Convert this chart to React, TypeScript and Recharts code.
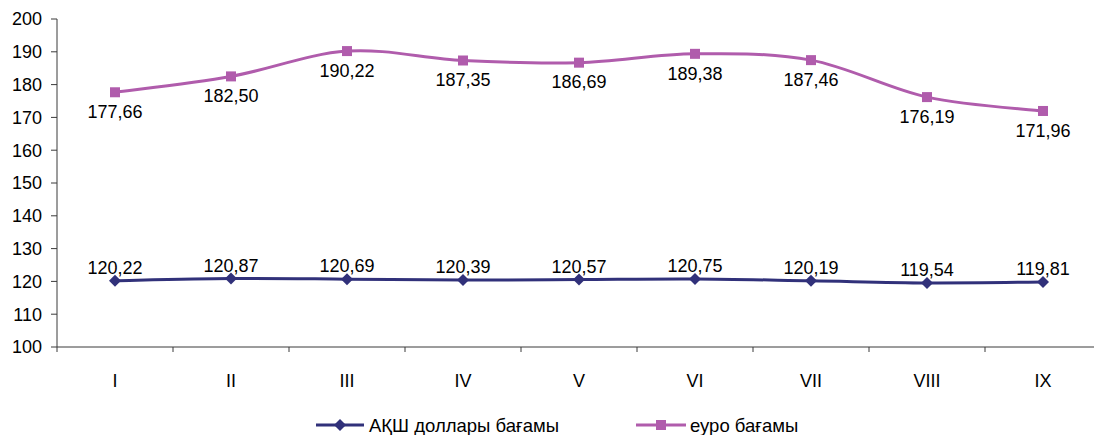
import React from 'react'
import { LineChart, Line, XAxis, YAxis, Legend, LabelList } from 'recharts'

const months = ['I', 'II', 'III', 'IV', 'V', 'VI', 'VII', 'VIII', 'IX']
const usdRate = [120.22, 120.87, 120.69, 120.39, 120.57, 120.75, 120.19, 119.54, 119.81]
const eurRate = [177.66, 182.5, 190.22, 187.35, 186.69, 189.38, 187.46, 176.19, 171.96]
const yTicks = [100, 110, 120, 130, 140, 150, 160, 170, 180, 190, 200]

const usdName = 'АҚШ доллары бағамы'
const eurName = 'еуро бағамы'

const USD_COLOR = '#31317a'
const EUR_COLOR = '#b05cac'
const AXIS_COLOR = '#3a3a3a'
const FONT = '"Liberation Sans", Arial, sans-serif'

const data = months.map((m, i) => ({ month: m, usd: usdRate[i], eur: eurRate[i] }))

// excel-like smoothing (catmull-rom through the points)
const smoothCurve = (ctx: any) => {
  let pts: number[][] = []
  return {
    areaStart() {},
    areaEnd() {},
    lineStart() {
      pts = []
    },
    point(x: number, y: number) {
      pts.push([+x, +y])
    },
    lineEnd() {
      if (!pts.length) return
      ctx.moveTo(pts[0][0], pts[0][1])
      for (let i = 0; i < pts.length - 1; i++) {
        const p0 = pts[i - 1] || pts[i]
        const p1 = pts[i]
        const p2 = pts[i + 1]
        const p3 = pts[i + 2] || p2
        ctx.bezierCurveTo(
          p1[0] + (p2[0] - p0[0]) / 6,
          p1[1] + (p2[1] - p0[1]) / 6,
          p2[0] - (p3[0] - p1[0]) / 6,
          p2[1] - (p3[1] - p1[1]) / 6,
          p2[0],
          p2[1]
        )
      }
    },
  }
}

const Diamond = ({ cx, cy }: any) => (
  <path d={`M${cx},${cy - 6}L${cx + 6},${cy}L${cx},${cy + 6}L${cx - 6},${cy}Z`} fill={USD_COLOR} />
)

const Square = ({ cx, cy }: any) => <rect x={cx - 5} y={cy - 5} width={10} height={10} fill={EUR_COLOR} />

const fmt = (v: any) => Number(v).toFixed(2).replace('.', ',')

const MonthTick = ({ x, y, payload }: any) => (
  <g>
    <line x1={x - 58} y1={y} x2={x - 58} y2={y + 5} stroke={AXIS_COLOR} />
    <text x={x} y={y + 34} dy="0.355em" textAnchor="middle" fontSize={18} fill="#000" fontFamily={FONT}>
      {payload.value}
    </text>
  </g>
)

const renderLegend = () => (
  <svg width={1094} height={48} style={{ display: 'block' }}>
    <line x1={316} y1={38} x2={364} y2={38} stroke={USD_COLOR} strokeWidth={3} />
    <Diamond cx={340} cy={38} />
    <text x={369} y={38} dy="0.355em" fontSize={18.5} fontFamily={FONT} fill="#000">
      {usdName}
    </text>
    <line x1={636} y1={38} x2={686} y2={38} stroke={EUR_COLOR} strokeWidth={3} />
    <Square cx={661} cy={38} />
    <text x={690} y={38} dy="0.355em" fontSize={18.5} fontFamily={FONT} fill="#000">
      {eurName}
    </text>
  </svg>
)

export default function App() {
  return (
    <div style={{ position: 'absolute', left: 0, top: 0, width: 1094, height: 435, overflow: 'hidden', background: '#fff' }}>
      <LineChart width={1101} height={435} data={data} margin={{ top: 19, right: 0, left: 0, bottom: 0 }}>
        <YAxis
          width={57}
          domain={[100, 200]}
          ticks={yTicks}
          interval={0}
          tickSize={6}
          tickMargin={9}
          stroke={AXIS_COLOR}
          tick={{ fill: '#000', fontSize: 18, fontFamily: FONT }}
        />
        <XAxis
          dataKey="month"
          height={40}
          interval={0}
          padding={{ left: 58, right: 58 }}
          tickLine={false}
          tickSize={0}
          tickMargin={0}
          stroke={AXIS_COLOR}
          tick={<MonthTick />}
        />
        <Legend content={renderLegend} verticalAlign="bottom" wrapperStyle={{ left: 0, bottom: 0, width: 1094, height: 48 }} />
        <Line
          dataKey="eur"
          name={eurName}
          type={smoothCurve as any}
          stroke={EUR_COLOR}
          strokeWidth={3}
          dot={<Square />}
          activeDot={false}
          isAnimationActive={false}
        >
          <LabelList dataKey="eur" position="bottom" offset={13} formatter={fmt} fill="#000" fontSize={18} fontFamily={FONT} />
        </Line>
        <Line
          dataKey="usd"
          name={usdName}
          type={smoothCurve as any}
          stroke={USD_COLOR}
          strokeWidth={3}
          dot={<Diamond />}
          activeDot={false}
          isAnimationActive={false}
        >
          <LabelList dataKey="usd" position="top" offset={7} formatter={fmt} fill="#000" fontSize={18} fontFamily={FONT} />
        </Line>
      </LineChart>
    </div>
  )
}
